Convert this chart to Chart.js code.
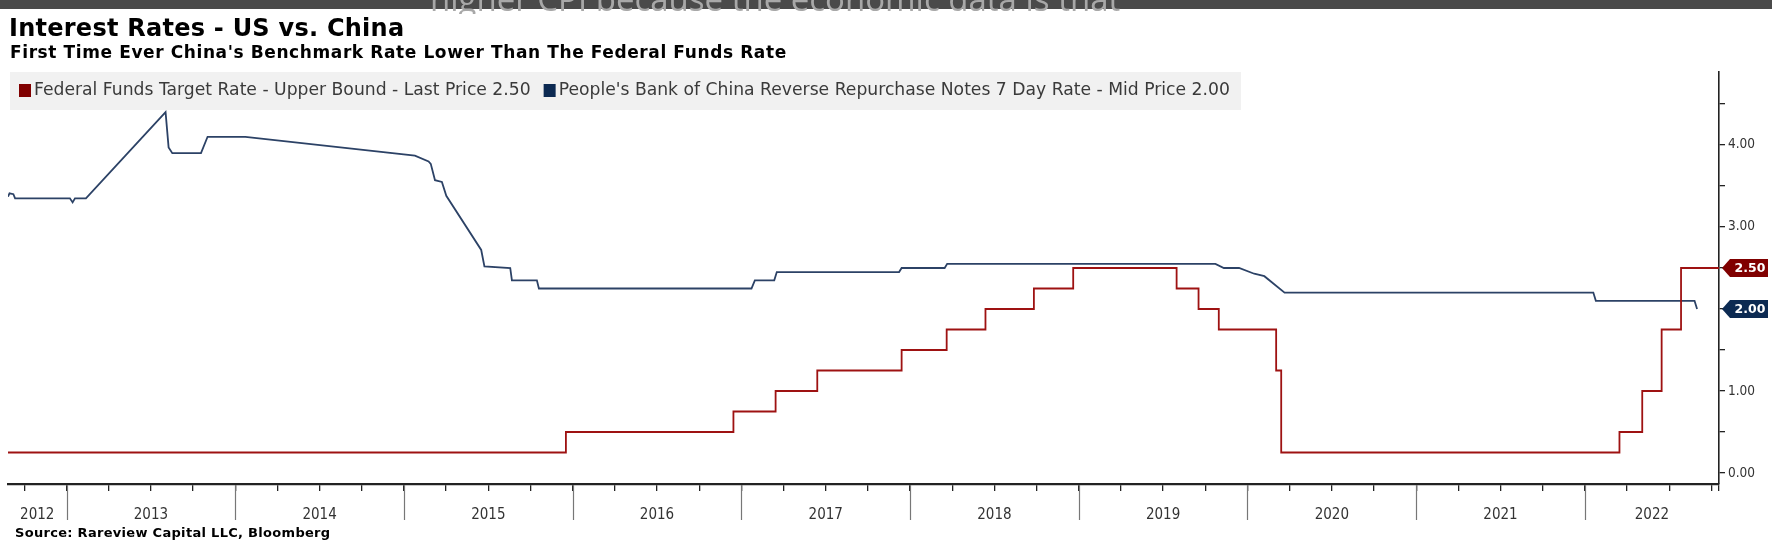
<!DOCTYPE html>
<html><head><meta charset="utf-8">
<script src="https://cdn.jsdelivr.net/npm/chart.js@4.4.1/dist/chart.umd.min.js"></script>
<style>html,body{margin:0;padding:0;background:#fff;overflow:hidden}canvas{display:block}</style>
</head><body>
<canvas id="c" width="1772" height="548"></canvas>
<script>
// ---------- texts ----------
const titleText = 'Interest Rates - US vs. China';
const subtitleText = "First Time Ever China's Benchmark Rate Lower Than The Federal Funds Rate";
const sourceText = 'Source: Rareview Capital LLC, Bloomberg';
const bannerText = 'higher CPI because the economic data is that';
const seriesNames = ['Federal Funds Target Rate - Upper Bound - Last Price 2.50',
                     "People's Bank of China Reverse Repurchase Notes 7 Day Rate - Mid Price 2.00"];
const lastPriceLabels = ['2.50', '2.00'];

// ---------- axes ----------
const yearLabels = ['2012','2013','2014','2015','2016','2017','2018','2019','2020','2021','2022'];
const yTickValues = [0, 0.5, 1, 1.5, 2, 2.5, 3, 3.5, 4, 4.5];
const xRange = [2012.653, 2022.795];
const yRange = [-0.134, 4.89];

// ---------- data (decimal years) ----------
const fedDates = [2012.653, 2015.960, 2016.953, 2017.203, 2017.450, 2017.950, 2018.217, 2018.447, 2018.734,
                  2018.967, 2019.580, 2019.710, 2019.830, 2020.170, 2020.200, 2022.205, 2022.340, 2022.455,
                  2022.570, 2022.795];
const fedRates = [0.25, 0.50, 0.75, 1.00, 1.25, 1.50, 1.75, 2.00, 2.25,
                  2.50, 2.25, 2.00, 1.75, 1.25, 0.25, 0.50, 1.00, 1.75,
                  2.50, 2.50];

const pbocDates = [2012.653, 2012.662, 2012.685, 2012.695, 2013.020, 2013.036, 2013.050, 2013.115, 2013.587,
                   2013.605, 2013.627, 2013.797, 2013.836, 2014.060, 2015.065, 2015.146, 2015.159, 2015.184,
                   2015.225, 2015.251, 2015.458, 2015.477, 2015.630, 2015.640, 2015.788, 2015.800, 2017.060,
                   2017.080, 2017.195, 2017.210, 2017.935, 2017.950, 2018.205, 2018.220, 2019.810, 2019.860,
                   2019.950, 2020.040, 2020.100, 2020.220, 2022.050, 2022.065, 2022.650, 2022.665];
const pbocRates = [3.37, 3.41, 3.40, 3.35, 3.35, 3.30, 3.35, 3.35, 4.40,
                   3.97, 3.90, 3.90, 4.10, 4.10, 3.87, 3.80, 3.77, 3.57,
                   3.55, 3.38, 2.72, 2.52, 2.50, 2.35, 2.35, 2.25, 2.25,
                   2.35, 2.35, 2.45, 2.45, 2.50, 2.50, 2.55, 2.55, 2.50,
                   2.50, 2.43, 2.40, 2.20, 2.20, 2.10, 2.10, 2.00];

const fedColor = '#9e1212';
const pbocColor = '#2c4266';
const fedBox = '#800000';
const pbocBox = '#0c2a52';

const toXY = (xs, ys) => xs.map((v, i) => ({x: v, y: ys[i]}));

const narrow = "'Liberation Sans Narrow','DejaVu Sans Condensed',sans-serif";
const sans = "'DejaVu Sans',Verdana,sans-serif";

const deco = {
  id: 'deco',
  afterDraw(chart) {
    const {ctx, chartArea: ca, scales: {x, y}} = chart;
    ctx.save();
    // year separators and labels
    const axisY = ca.bottom;
    ctx.textAlign = 'center';
    ctx.textBaseline = 'alphabetic';
    ctx.font = '15px ' + narrow;
    yearLabels.forEach(lbl => {
      const yr = +lbl;
      if (yr > x.min && yr < x.max) {
        const px = Math.round(x.getPixelForValue(yr)) + 0.5;
        ctx.strokeStyle = '#777';
        ctx.lineWidth = 1.2;
        ctx.beginPath(); ctx.moveTo(px, axisY + 1); ctx.lineTo(px, axisY + 36); ctx.stroke();
      }
      const a = Math.max(yr, x.min), b = Math.min(yr + 1, x.max);
      const cx = (x.getPixelForValue(a) + x.getPixelForValue(b)) / 2;
      ctx.fillStyle = '#333';
      ctx.fillText(lbl, cx, axisY + 35);
    });

    // last price boxes
    const lastVals = chart.data.datasets.map(d => d.data[d.data.length - 1].y);
    const boxCols = [fedBox, pbocBox];
    lastVals.forEach((v, i) => {
      const py = y.getPixelForValue(v);
      const x0 = ca.right + 3, x1 = ca.right + 11, x2 = ca.right + 49, h = 18;
      ctx.fillStyle = boxCols[i];
      ctx.beginPath();
      ctx.moveTo(x0, py); ctx.lineTo(x1, py - h / 2); ctx.lineTo(x2, py - h / 2);
      ctx.lineTo(x2, py + h / 2); ctx.lineTo(x1, py + h / 2); ctx.closePath(); ctx.fill();
      ctx.fillStyle = '#fff';
      ctx.font = 'bold 12.5px ' + sans;
      ctx.textAlign = 'center'; ctx.textBaseline = 'middle';
      ctx.fillText(lastPriceLabels[i], (x1 + x2) / 2 + 1, py + 1);
    });

    // legend overlay
    ctx.fillStyle = '#f1f1f1';
    ctx.fillRect(10, 72, 1231, 38);
    ctx.font = '17.2px ' + sans;
    ctx.textAlign = 'left'; ctx.textBaseline = 'middle';
    let lx = 19;
    const legCols = [fedBox, pbocBox];
    seriesNames.forEach((name, i) => {
      ctx.fillStyle = legCols[i];
      ctx.fillRect(lx, 84, 12, 13);
      ctx.fillStyle = '#3a3a3a';
      ctx.fillText(name, lx + 15, 91);
      lx += 15 + ctx.measureText(name).width + 13;
    });

    // banner
    ctx.fillStyle = '#4a4a4a';
    ctx.fillRect(0, 0, chart.width, 9);
    ctx.save();
    ctx.beginPath(); ctx.rect(0, 0, chart.width, 14); ctx.clip();
    ctx.fillStyle = '#a8a8a8';
    ctx.font = '33px ' + "'Open Sans',sans-serif";
    ctx.textBaseline = 'alphabetic';
    ctx.fillText(bannerText, 430, 11);
    ctx.restore();

    // titles
    ctx.fillStyle = '#000';
    ctx.textBaseline = 'alphabetic';
    ctx.textAlign = 'left';
    ctx.font = 'bold 24px ' + sans;
    ctx.letterSpacing = '0.25px';
    ctx.fillText(titleText, 9, 36);
    ctx.font = 'bold 17px ' + sans;
    ctx.letterSpacing = '0.6px';
    ctx.fillText(subtitleText, 10, 58);
    ctx.font = 'bold 13px ' + sans;
    ctx.letterSpacing = '0.3px';
    ctx.fillText(sourceText, 15, 537);
    ctx.letterSpacing = '0px';
    ctx.restore();
  }
};

new Chart(document.getElementById('c'), {
  type: 'line',
  data: {
    datasets: [
      {label: seriesNames[0], data: toXY(fedDates, fedRates), borderColor: fedColor, borderWidth: 1.8,
       stepped: 'before', pointRadius: 0, fill: false},
      {label: seriesNames[1], data: toXY(pbocDates, pbocRates), borderColor: pbocColor, borderWidth: 1.8,
       tension: 0, pointRadius: 0, fill: false}
    ]
  },
  options: {
    responsive: false,
    animation: false,
    events: [],
    layout: {padding: {left: 8, top: 72, right: 0, bottom: 0}},
    plugins: {legend: {display: false}, tooltip: {enabled: false}, title: {display: false}},
    scales: {
      x: {
        type: 'linear', min: xRange[0], max: xRange[1],
        afterBuildTicks: s => {
          const t = [];
          yearLabels.forEach(l => [0, 0.25, 0.5, 0.75].forEach(q => {
            const v = +l + q; if (v >= s.min && v <= s.max + 1e-6) t.push({value: v});
          }));
          if (t[t.length - 1].value < s.max - 0.01) t.push({value: s.max});
          s.ticks = t;
        },
        afterFit: s => { s.height = 64; },
        border: {display: true, color: '#222', width: 2.2},
        grid: {display: true, drawOnChartArea: false, drawTicks: true, tickLength: 7, color: '#222', lineWidth: 1.3},
        ticks: {autoSkip: false, maxRotation: 0, callback: () => ''}
      },
      y: {
        position: 'right', min: yRange[0], max: yRange[1],
        afterBuildTicks: s => { s.ticks = yTickValues.map(v => ({value: v})); },
        afterFit: s => { s.width = 53; },
        border: {display: true, color: '#222', width: 1.6},
        grid: {display: true, drawOnChartArea: false, drawTicks: true, tickLength: 6, color: '#222', lineWidth: 1.3},
        ticks: {
          padding: 3, color: '#333', font: {family: narrow, size: 13.5},
          callback: v => (Number.isInteger(v) && v !== 2) ? v.toFixed(2) : ''
        }
      }
    }
  },
  plugins: [deco]
});
</script>
</body></html>
